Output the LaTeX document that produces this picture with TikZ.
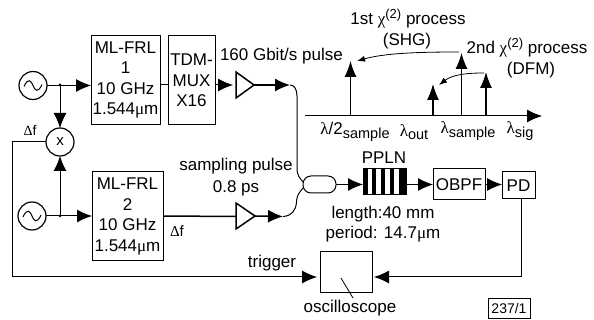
\documentclass[tikz,border=0pt]{standalone}
\usepackage{fontspec}
\setmainfont{Liberation Sans}
\newfontfamily\grk{Liberation Serif}
\usetikzlibrary{arrows.meta,calc}
\newcommand{\gl}[1]{{\grk #1}}
\newcommand{\subt}[1]{\raisebox{-3.5pt}{\fontsize{14.5}{16}\selectfont #1}}
\tikzset{
  x=1pt,y=-1pt,
  every node/.style={font=\fontsize{17}{20.5}\selectfont,inner sep=0pt,outer sep=0pt},
  conn/.style={line width=1pt,-{Latex[length=15pt,width=13pt]}},
  wire/.style={line width=1pt},
  blockbox/.style={draw,line width=1pt,align=center,minimum width=#1},
  osc/.style={draw,circle,line width=1.2pt,minimum size=28pt},
  amp/.style={draw,line width=1.5pt},
  spec/.style={line width=1.2pt,-{Latex[length=16pt,width=12pt]}},
  bent/.style={line width=0.8pt,-{Latex[length=8pt,width=6pt]}},
  lbl/.style={align=center},
}
\newcommand{\sine}[2]{\draw[line width=1pt] ($(#1)+(-9,#2)$) .. controls ($(#1)+(-5,-8)$) and ($(#1)+(-2,-5)$) .. ($(#1)+(0,0)$) .. controls ($(#1)+(2,5)$) and ($(#1)+(5,8)$) .. ($(#1)+(9,-#2)$);}
\begin{document}
\begin{tikzpicture}
\useasboundingbox (0,0) rectangle (594,320);
% oscillators
\node[osc] (o1) at (33,85.5) {};
\node[osc] (o2) at (32,216) {};
\sine{o1}{1}\sine{o2}{1}
\node[osc,minimum size=28pt] (mx) at (60,142) {\fontsize{15}{17}\selectfont x};
% blocks
\node[blockbox=69pt,minimum height=89pt] (frl1) at (125.5,80) {ML-FRL\\1\\10 GHz\\1.544\gl{μ}m};
\node[blockbox=47pt,minimum height=89pt] (mux) at (191.5,80.5) {TDM-\\MUX\\X16};
\node[blockbox=71pt,minimum height=89pt] (frl2) at (127.5,216.5) {ML-FRL\\2\\10 GHz\\1.544\gl{μ}m};
\coordinate (j1) at (60,85);
\coordinate (j2) at (60,216);
\fill (j1) circle (1.5pt) (j2) circle (1.5pt);
\draw[conn] (o1.east) -- (frl1.west |- o1.east);
\draw[conn] (j1) -- (mx.north);
\draw[conn] (o2.east) -- (frl2.west |- o2.east);
\draw[conn] (j2) -- (mx.south);
% mux link
\draw[wire] (frl1.east |- j1) -- (mux.west |- j1);
% amplifiers
\coordinate (a1l) at (236,72); \coordinate (a1b) at (236,98); \coordinate (a1r) at (254,85);
\coordinate (a2l) at (236,203); \coordinate (a2b) at (236,229); \coordinate (a2r) at (255,216);
\draw[amp] (a1l) -- (a1b) -- (a1r) -- cycle;
\draw[amp] (a2l) -- (a2b) -- (a2r) -- cycle;
\draw[conn] (mux.east |- a1r) -- (233,85);
\draw[wire,line width=1.5pt] (frl2.east |- a2r) -- (236,216.5);
% coupler
\node[draw,line width=1pt,rounded corners=8pt,minimum width=33pt,minimum height=17pt] (cp) at (319.5,184.5) {};
\coordinate (fa) at (290,85);
\coordinate (fb) at (283,216.5);
\draw[conn,line width=1.5pt] (a1r) -- (fa);
\draw[conn,line width=1.5pt] (a2r) -- (fb);
\draw[wire] (fa) .. controls (294,85) and (297,89) .. (297,96) -- (297,168) .. controls (297,176) and (300,178) .. (303,182);
\draw[wire] (fb) .. controls (292,216) and (296,210) .. (296.5,202) .. controls (297,194) and (300,192) .. (303,188);
% PPLN
\node[draw,line width=1pt,minimum width=43pt,minimum height=26pt] (ppln) at (384.5,182) {};
\foreach \x/\w in {363.5/4,372/3.5,381/3.5,390/3.5,399/6.5}
  \fill (\x,169) rectangle ++(\w,26);
\node[blockbox=52pt,minimum height=31pt] (obpf) at (459,184.5) {OBPF};
\node[blockbox=33pt,minimum height=27pt] (pd) at (518.5,185.5) {PD};
\draw[conn] (cp.east) -- (ppln.west |- cp.east);
\draw[conn] (ppln.east |- obpf.west) -- (obpf.west);
\draw[conn] (obpf.east) -- (pd.west |- obpf.east);
% scope
\node[draw,line width=1pt,minimum width=52pt,minimum height=40pt] (scope) at (346,272) {};
\coordinate (n1) at (341,278); \coordinate (n2) at (353,298);
\draw[line width=0.8pt] (n1) -- (n2);
\coordinate (pdc) at (521,277);
\draw[wire] (pd.south -| pdc) -- (pdc);
\draw[conn] (pdc) -- (374,277);
\coordinate (f1) at (12.5,142); \coordinate (f2) at (12.5,277);
\draw[wire] (mx.west) -- (f1) -- (f2);
\draw[conn] (f2) -- (317,277);
% box
\node[draw,line width=1pt,minimum width=42pt,minimum height=20pt,font=\fontsize{14}{16}\selectfont] (tag) at (509,308) {237/1};
% spectrum
\coordinate (ax0) at (305,116); \coordinate (ax1) at (542,116);
\draw[line width=1pt,-{Latex[length=15pt,width=13pt]}] (ax0) -- (ax1);
\coordinate (s1) at (350.5,116); \coordinate (s2) at (433,116); \coordinate (s3) at (461.5,116); \coordinate (s4) at (486,116);
\coordinate (t1) at (350.5,61); \coordinate (t2) at (433,84); \coordinate (t3) at (461.5,53); \coordinate (t4) at (486,72);
\draw[spec] (s1) -- (t1);
\draw[spec] (s2) -- (t2);
\draw[spec] (s3) -- (t3);
\draw[spec] (s4) -- (t4);
\draw[bent] (459,52) .. controls (420,52) and (385,53) .. (357,61);
\draw[bent] (484,73) .. controls (465,73) and (452,75) .. (439,85);
% labels
\node[lbl,anchor=west] (l160) at (220,56) {160 Gbit/s pulse};
\node[lbl] (lsp) at (236,177) {sampling pulse\\[1pt]0.8 ps};
\node (ldf1) at (30,130) {\fontsize{14}{16}\selectfont\gl{Δ}f};
\node (ldf2) at (177,231) {\fontsize{15}{17}\selectfont\gl{Δ}f};
\node (ltr) at (272,263) {trigger};
\node[lbl] (llen) at (383,206) [anchor=north] {length:40 mm\\period: 14.7\gl{μ}m};
\node (lppln) at (384,158) {PPLN};
\node (losc) at (350,308) {oscilloscope};
\node (lp1) at (408,19) {1st \gl{χ}\raisebox{6pt}{\fontsize{13}{14}\selectfont (2)} process};
\node (lp1b) at (407,41) {(SHG)};
\node (lp2) at (527,48) {2nd \gl{χ}\raisebox{6pt}{\fontsize{13}{14}\selectfont (2)} process};
\node (lp2b) at (531,70) {(DFM)};
\node (ls1) at (355,132) {\gl{λ}/2\subt{sample}};
\node (ls2) at (414,132) {\gl{λ}\subt{out}};
\node (ls3) at (468,131) {\gl{λ}\subt{sample}};
\node (ls4) at (520,131) {\gl{λ}\subt{sig}};
\end{tikzpicture}
\end{document}
